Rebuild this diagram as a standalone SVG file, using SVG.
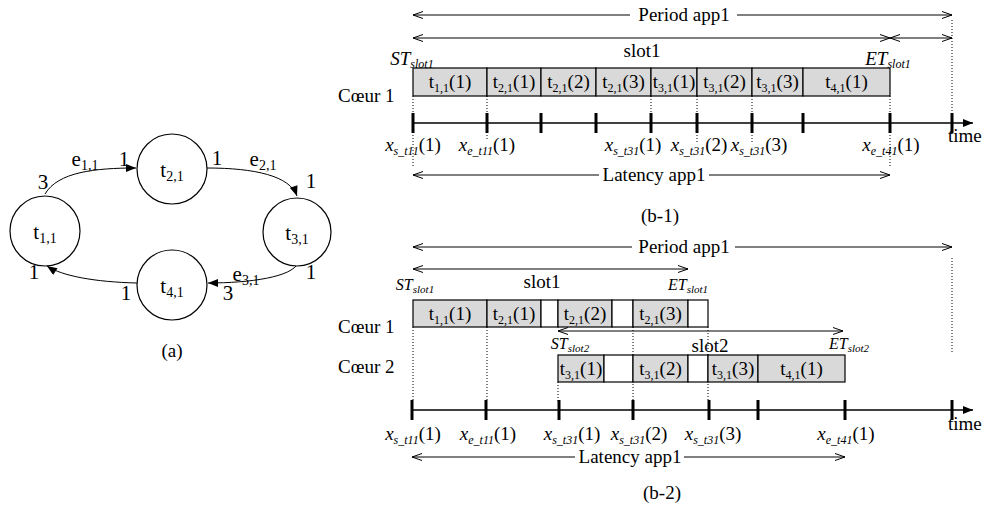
<svg xmlns="http://www.w3.org/2000/svg" width="983" height="506" viewBox="0 0 983 506">
<style>
.t{font-family:"Liberation Serif","Times New Roman",serif;font-size:19px;fill:#000}
.g{font-size:21px}
.sg{font-size:14px}
.i{font-style:italic}
.sb{font-size:12px}
.ss{font-size:11px}
.st{font-size:16px}
.box{stroke:#000;stroke-width:1.2;fill:#d9d9d9}
.wb{stroke:#000;stroke-width:1.2;fill:#fff}
.ln{stroke:#000;stroke-width:1;fill:none}
.tl{stroke:#000;stroke-width:1.5;fill:none}
.dot{stroke:#000;stroke-width:1;stroke-dasharray:1 2;fill:none}
.tick{stroke:#000;stroke-width:3}
.nd{fill:#fff;stroke:#000;stroke-width:1.2}
</style>
<defs>
<marker id="oa" viewBox="0 0 10 8" refX="10" refY="4" markerWidth="11" markerHeight="8" markerUnits="userSpaceOnUse" orient="auto-start-reverse">
<path d="M0,0.5 L10,4 L0,7.5" fill="none" stroke="#000" stroke-width="1"/>
</marker>
<marker id="fa" viewBox="0 0 10 8" refX="10" refY="4" markerWidth="11" markerHeight="8" markerUnits="userSpaceOnUse" orient="auto">
<path d="M0,0 L10,4 L0,8 z" fill="#000"/>
</marker>
</defs>

<!-- (a) graph -->
<g id="connectors-a">
<path class="ln" d="M45,194 C58,172 95,168 136,168" marker-end="url(#fa)"/>
<path class="ln" d="M207,168 C255,168 290,176 297,196" marker-end="url(#fa)"/>
<path class="ln" d="M298,263 C292,277 250,283 208,283" marker-end="url(#fa)"/>
<path class="ln" d="M137,283 C95,282 62,276 47,266" marker-end="url(#fa)"/>
</g>
<g id="t11"><circle class="nd" cx="45" cy="231" r="35"/><text class="t g" x="45" y="239" text-anchor="middle">t<tspan class="sg" dy="4">1,1</tspan></text></g>
<g id="t21"><circle class="nd" cx="172" cy="169" r="35"/><text class="t g" x="172" y="177" text-anchor="middle">t<tspan class="sg" dy="4">2,1</tspan></text></g>
<g id="t31"><circle class="nd" cx="297" cy="232" r="34"/><text class="t g" x="297" y="240" text-anchor="middle">t<tspan class="sg" dy="4">3,1</tspan></text></g>
<g id="t41"><circle class="nd" cx="172" cy="285" r="35"/><text class="t g" x="172" y="293" text-anchor="middle">t<tspan class="sg" dy="4">4,1</tspan></text></g>
<g id="labels-a">
<text class="t g" x="43" y="189" text-anchor="middle">3</text>
<text class="t g" x="85" y="166" text-anchor="middle">e<tspan class="sg" dy="4">1,1</tspan></text>
<text class="t g" x="124" y="166" text-anchor="middle">1</text>
<text class="t g" x="217" y="165" text-anchor="middle">1</text>
<text class="t g" x="263" y="166" text-anchor="middle">e<tspan class="sg" dy="4">2,1</tspan></text>
<text class="t g" x="311" y="188" text-anchor="middle">1</text>
<text class="t g" x="311" y="279" text-anchor="middle">1</text>
<text class="t g" x="246" y="281" text-anchor="middle">e<tspan class="sg" dy="4">3,1</tspan></text>
<text class="t g" x="228" y="300" text-anchor="middle">3</text>
<text class="t g" x="126" y="300" text-anchor="middle">1</text>
<text class="t g" x="34" y="279" text-anchor="middle">1</text>
<text class="t" x="172" y="357" text-anchor="middle">(a)</text>
</g>

<!-- (b-1) -->
<g id="b1-connectors">
<line class="ln" x1="413" y1="15" x2="630" y2="15" marker-start="url(#oa)"/>
<line class="ln" x1="737" y1="15" x2="952" y2="15" marker-end="url(#oa)"/>
<line class="ln" x1="413" y1="38" x2="890" y2="38" marker-start="url(#oa)" marker-end="url(#oa)"/>
<line class="ln" x1="890" y1="38" x2="952" y2="38" marker-start="url(#oa)" marker-end="url(#oa)"/>
<line class="ln" x1="413" y1="175" x2="599" y2="175" marker-start="url(#oa)"/>
<line class="ln" x1="709" y1="175" x2="890" y2="175" marker-end="url(#oa)"/>
<line class="dot" x1="413" y1="96" x2="413" y2="168"/>
<line class="dot" x1="487" y1="96" x2="487" y2="140"/>
<line class="dot" x1="651" y1="96" x2="651" y2="123"/>
<line class="dot" x1="697" y1="96" x2="697" y2="143"/>
<line class="dot" x1="752" y1="96" x2="752" y2="143"/>
<line class="dot" x1="890" y1="96" x2="890" y2="168"/>
<line class="dot" x1="952" y1="20" x2="952" y2="118"/>
<line class="tl" x1="412" y1="123" x2="973" y2="123" marker-end="url(#fa)"/>
<g class="tick">
<line x1="413" y1="113" x2="413" y2="133"/><line x1="487" y1="113" x2="487" y2="133"/>
<line x1="541" y1="113" x2="541" y2="133"/><line x1="596" y1="113" x2="596" y2="133"/>
<line x1="651" y1="113" x2="651" y2="133"/><line x1="697" y1="113" x2="697" y2="133"/>
<line x1="752" y1="113" x2="752" y2="133"/><line x1="803" y1="113" x2="803" y2="133"/>
<line x1="890" y1="113" x2="890" y2="133"/><line x1="952" y1="113" x2="952" y2="133"/>
</g>
</g>
<g id="b1-boxes">
<g id="b1-t11"><rect class="box" x="413" y="68" width="74" height="28"/><text class="t" x="450" y="88" text-anchor="middle">t<tspan class="sb" dy="4">1,1</tspan><tspan dy="-4">(1)</tspan></text></g>
<g id="b1-t21a"><rect class="box" x="487" y="68" width="54" height="28"/><text class="t" x="514" y="88" text-anchor="middle">t<tspan class="sb" dy="4">2,1</tspan><tspan dy="-4">(1)</tspan></text></g>
<g id="b1-t21b"><rect class="box" x="541" y="68" width="55" height="28"/><text class="t" x="568.5" y="88" text-anchor="middle">t<tspan class="sb" dy="4">2,1</tspan><tspan dy="-4">(2)</tspan></text></g>
<g id="b1-t21c"><rect class="box" x="596" y="68" width="55" height="28"/><text class="t" x="623.5" y="88" text-anchor="middle">t<tspan class="sb" dy="4">2,1</tspan><tspan dy="-4">(3)</tspan></text></g>
<g id="b1-t31a"><rect class="box" x="651" y="68" width="46" height="28"/><text class="t" x="674" y="88" text-anchor="middle">t<tspan class="sb" dy="4">3,1</tspan><tspan dy="-4">(1)</tspan></text></g>
<g id="b1-t31b"><rect class="box" x="697" y="68" width="55" height="28"/><text class="t" x="724.5" y="88" text-anchor="middle">t<tspan class="sb" dy="4">3,1</tspan><tspan dy="-4">(2)</tspan></text></g>
<g id="b1-t31c"><rect class="box" x="752" y="68" width="51" height="28"/><text class="t" x="777.5" y="88" text-anchor="middle">t<tspan class="sb" dy="4">3,1</tspan><tspan dy="-4">(3)</tspan></text></g>
<g id="b1-t41"><rect class="box" x="803" y="68" width="87" height="28"/><text class="t" x="846.5" y="88" text-anchor="middle">t<tspan class="sb" dy="4">4,1</tspan><tspan dy="-4">(1)</tspan></text></g>
</g>
<g id="b1-labels">
<text class="t" x="684" y="21" text-anchor="middle">Period app1</text>
<text class="t" x="642" y="57" text-anchor="middle">slot1</text>
<text class="t i" x="412" y="65" text-anchor="middle">ST<tspan class="sb" dy="3">slot1</tspan></text>
<text class="t i" x="888" y="65" text-anchor="middle">ET<tspan class="sb" dy="3">slot1</tspan></text>
<text class="t" x="338" y="102">Cœur 1</text>
<text class="t" x="948" y="142">time</text>
<text class="t" x="413" y="151" text-anchor="middle"><tspan class="i">x</tspan><tspan class="sb i" dy="4">s_t11</tspan><tspan dy="-4">(1)</tspan></text>
<text class="t" x="487" y="151" text-anchor="middle"><tspan class="i">x</tspan><tspan class="sb i" dy="4">e_t11</tspan><tspan dy="-4">(1)</tspan></text>
<text class="t" x="633" y="151" text-anchor="middle"><tspan class="i">x</tspan><tspan class="sb i" dy="4">s_t31</tspan><tspan dy="-4">(1)</tspan></text>
<text class="t" x="699" y="151" text-anchor="middle"><tspan class="i">x</tspan><tspan class="sb i" dy="4">s_t31</tspan><tspan dy="-4">(2)</tspan></text>
<text class="t" x="759" y="151" text-anchor="middle"><tspan class="i">x</tspan><tspan class="sb i" dy="4">s_t31</tspan><tspan dy="-4">(3)</tspan></text>
<text class="t" x="891" y="151" text-anchor="middle"><tspan class="i">x</tspan><tspan class="sb i" dy="4">e_t41</tspan><tspan dy="-4">(1)</tspan></text>
<text class="t" x="654" y="181" text-anchor="middle">Latency app1</text>
<text class="t" x="660" y="222" text-anchor="middle">(b-1)</text>
</g>

<!-- (b-2) -->
<g id="b2-connectors">
<line class="ln" x1="413" y1="247" x2="632" y2="247" marker-start="url(#oa)"/>
<line class="ln" x1="735" y1="247" x2="952" y2="247" marker-end="url(#oa)"/>
<line class="ln" x1="413" y1="269" x2="688" y2="269" marker-start="url(#oa)" marker-end="url(#oa)"/>
<line class="ln" x1="558" y1="331" x2="843" y2="331" marker-start="url(#oa)" marker-end="url(#oa)"/>
<line class="ln" x1="412" y1="457" x2="575" y2="457" marker-start="url(#oa)"/>
<line class="ln" x1="684" y1="457" x2="845" y2="457" marker-end="url(#oa)"/>
<line class="dot" x1="952" y1="258" x2="952" y2="354"/>
<line class="dot" x1="413" y1="327" x2="413" y2="402"/>
<line class="dot" x1="487" y1="327" x2="487" y2="402"/>
<line class="dot" x1="558" y1="382" x2="558" y2="402"/>
<line class="dot" x1="633" y1="327" x2="633" y2="402"/>
<line class="dot" x1="708" y1="327" x2="708" y2="402"/>
<line class="tl" x1="411" y1="410" x2="973" y2="410" marker-end="url(#fa)"/>
<g class="tick">
<line x1="412" y1="400" x2="412" y2="420"/><line x1="486" y1="400" x2="486" y2="420"/>
<line x1="559" y1="400" x2="559" y2="420"/><line x1="633" y1="400" x2="633" y2="420"/>
<line x1="709" y1="400" x2="709" y2="420"/><line x1="758" y1="400" x2="758" y2="420"/>
<line x1="845" y1="400" x2="845" y2="420"/><line x1="952" y1="400" x2="952" y2="420"/>
</g>
</g>
<g id="b2-core1">
<g id="b2-t11"><rect class="box" x="413" y="300" width="74" height="27"/><text class="t" x="450" y="320" text-anchor="middle">t<tspan class="sb" dy="4">1,1</tspan><tspan dy="-4">(1)</tspan></text></g>
<g id="b2-t21a"><rect class="box" x="487" y="300" width="54" height="27"/><text class="t" x="514" y="320" text-anchor="middle">t<tspan class="sb" dy="4">2,1</tspan><tspan dy="-4">(1)</tspan></text></g>
<rect class="wb" x="541" y="300" width="17" height="27"/>
<g id="b2-t21b"><rect class="box" x="558" y="300" width="54" height="27"/><text class="t" x="585" y="320" text-anchor="middle">t<tspan class="sb" dy="4">2,1</tspan><tspan dy="-4">(2)</tspan></text></g>
<rect class="wb" x="612" y="300" width="21" height="27"/>
<g id="b2-t21c"><rect class="box" x="633" y="300" width="55" height="27"/><text class="t" x="660.5" y="320" text-anchor="middle">t<tspan class="sb" dy="4">2,1</tspan><tspan dy="-4">(3)</tspan></text></g>
<rect class="wb" x="688" y="300" width="20" height="27"/>
</g>
<g id="b2-core2">
<g id="b2-t31a"><rect class="box" x="558" y="355" width="46" height="27"/><text class="t" x="581" y="375" text-anchor="middle">t<tspan class="sb" dy="4">3,1</tspan><tspan dy="-4">(1)</tspan></text></g>
<rect class="wb" x="604" y="355" width="29" height="27"/>
<g id="b2-t31b"><rect class="box" x="633" y="355" width="55" height="27"/><text class="t" x="660.5" y="375" text-anchor="middle">t<tspan class="sb" dy="4">3,1</tspan><tspan dy="-4">(2)</tspan></text></g>
<rect class="wb" x="688" y="355" width="20" height="27"/>
<g id="b2-t31c"><rect class="box" x="708" y="355" width="50" height="27"/><text class="t" x="733" y="375" text-anchor="middle">t<tspan class="sb" dy="4">3,1</tspan><tspan dy="-4">(3)</tspan></text></g>
<g id="b2-t41"><rect class="box" x="758" y="355" width="87" height="27"/><text class="t" x="801.5" y="375" text-anchor="middle">t<tspan class="sb" dy="4">4,1</tspan><tspan dy="-4">(1)</tspan></text></g>
</g>
<g id="b2-labels">
<text class="t" x="684" y="253" text-anchor="middle">Period app1</text>
<text class="t" x="542" y="288" text-anchor="middle">slot1</text>
<text class="t i st" x="415" y="290" text-anchor="middle">ST<tspan class="ss" dy="3">slot1</tspan></text>
<text class="t i st" x="688" y="290" text-anchor="middle">ET<tspan class="ss" dy="3">slot1</tspan></text>
<text class="t i st" x="570" y="349" text-anchor="middle">ST<tspan class="ss" dy="3">slot2</tspan></text>
<text class="t" x="710" y="352" text-anchor="middle">slot2</text>
<text class="t i st" x="849" y="349" text-anchor="middle">ET<tspan class="ss" dy="3">slot2</tspan></text>
<text class="t" x="338" y="333">Cœur 1</text>
<text class="t" x="338" y="373">Cœur 2</text>
<text class="t" x="948" y="430">time</text>
<text class="t" x="413" y="440" text-anchor="middle"><tspan class="i">x</tspan><tspan class="sb i" dy="4">s_t11</tspan><tspan dy="-4">(1)</tspan></text>
<text class="t" x="488" y="440" text-anchor="middle"><tspan class="i">x</tspan><tspan class="sb i" dy="4">e_t11</tspan><tspan dy="-4">(1)</tspan></text>
<text class="t" x="572" y="440" text-anchor="middle"><tspan class="i">x</tspan><tspan class="sb i" dy="4">s_t31</tspan><tspan dy="-4">(1)</tspan></text>
<text class="t" x="639" y="440" text-anchor="middle"><tspan class="i">x</tspan><tspan class="sb i" dy="4">s_t31</tspan><tspan dy="-4">(2)</tspan></text>
<text class="t" x="713" y="440" text-anchor="middle"><tspan class="i">x</tspan><tspan class="sb i" dy="4">s_t31</tspan><tspan dy="-4">(3)</tspan></text>
<text class="t" x="846" y="440" text-anchor="middle"><tspan class="i">x</tspan><tspan class="sb i" dy="4">e_t41</tspan><tspan dy="-4">(1)</tspan></text>
<text class="t" x="630" y="463" text-anchor="middle">Latency app1</text>
<text class="t" x="662" y="499" text-anchor="middle">(b-2)</text>
</g>
</svg>
